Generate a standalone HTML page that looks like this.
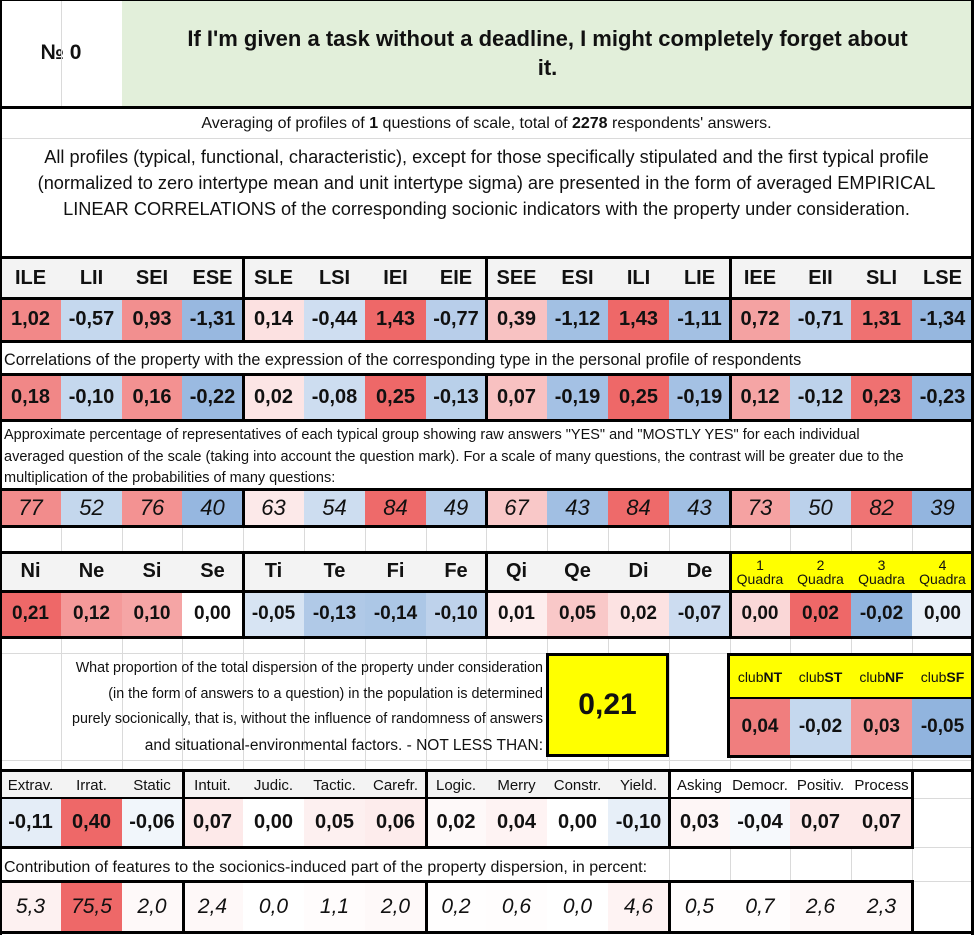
<!DOCTYPE html>
<html><head><meta charset="utf-8">
<style>
body{margin:0;background:#fff;}
#sheet{position:relative;width:975px;height:935px;overflow:hidden;background:#fff;font-family:"Liberation Sans",sans-serif;color:#111;}
.c{position:absolute;box-sizing:border-box;display:flex;align-items:center;justify-content:center;white-space:nowrap;}
.ln{position:absolute;background:#000;}
.gl{position:absolute;background:#dadada;}
.txt{position:absolute;white-space:nowrap;}
</style></head><body>
<div id="sheet">
  <div class="c" style="left:0;top:0;width:122px;height:106px;font-weight:bold;font-size:21px;">№ 0</div>
  <div class="gl" style="left:61px;top:0;width:1px;height:106px"></div>
  <div class="c" style="left:122px;top:0;width:851px;height:106px;background:#e2efda;font-weight:bold;font-size:22px;text-align:center;white-space:normal;line-height:29px;padding:0 10px;">If I'm given a task without a deadline, I might completely forget about<br>it.</div>
  <div class="c" style="left:0;top:109px;width:973px;height:29px;font-size:16px;">Averaging of profiles of&nbsp;<b>1</b>&nbsp;questions of scale, total of&nbsp;<b>2278</b>&nbsp;respondents' answers.</div>
  <div class="gl" style="left:0;top:138px;width:973px;height:1px"></div>
  <div class="c" style="left:0;top:144px;width:973px;height:78px;font-size:18.2px;line-height:26px;white-space:nowrap;text-align:center;">All profiles (typical, functional, characteristic), except for those specifically stipulated and the first typical profile<br>(normalized to zero intertype mean and unit intertype sigma) are presented in the form of averaged EMPIRICAL<br>LINEAR CORRELATIONS of the corresponding socionic indicators with the property under consideration.</div>
  <div class="txt" style="left:4px;top:351px;font-size:16.2px;">Correlations of the property with the expression of the corresponding type in the personal profile of respondents</div>
  <div class="txt" style="left:4px;top:425px;font-size:14.5px;line-height:21.5px;">Approximate percentage of representatives of each typical group showing raw answers "YES" and "MOSTLY YES" for each individual<br>averaged question of the scale (taking into account the question mark). For a scale of many questions, the contrast will be greater due to the<br>multiplication of the probabilities of many questions:</div>
  <div class="txt" style="left:20px;top:656px;width:523px;font-size:14.3px;line-height:25.5px;text-align:right;">What proportion of the total dispersion of the property under consideration<br>(in the form of answers to a question) in the population is determined<br>purely socionically, that is, without the influence of randomness of answers<br><span style="font-size:15.5px">and situational-environmental factors. - NOT LESS THAN:</span></div>
  <div class="c" style="left:546px;top:653px;width:123px;height:104px;background:#ffff00;border:3px solid #000;font-weight:bold;font-size:30px;">0,21</div>
  <div class="txt" style="left:4px;top:859px;font-size:16px;">Contribution of features to the socionics-induced part of the property dispersion, in percent:</div>
</div>
<script>
const typeNames=["ILE","LII","SEI","ESE","SLE","LSI","IEI","EIE","SEE","ESI","ILI","LIE","IEE","EII","SLI","LSE"];
const typeProfile=[1.02,-0.57,0.93,-1.31,0.14,-0.44,1.43,-0.77,0.39,-1.12,1.43,-1.11,0.72,-0.71,1.31,-1.34];
const typeCorrelation=[0.18,-0.10,0.16,-0.22,0.02,-0.08,0.25,-0.13,0.07,-0.19,0.25,-0.19,0.12,-0.12,0.23,-0.23];
const yesPercent=[77,52,76,40,63,54,84,49,67,43,84,43,73,50,82,39];
const funcNames=["Ni","Ne","Si","Se","Ti","Te","Fi","Fe","Qi","Qe","Di","De"];
const funcValues=[0.21,0.12,0.10,0.00,-0.05,-0.13,-0.14,-0.10,0.01,0.05,0.02,-0.07];
const quadraNames=["1","2","3","4"];
const quadraValues=[0.003,0.02,-0.02,-0.002];
const clubNames=["NT","ST","NF","SF"];
const clubValues=[0.04,-0.02,0.03,-0.05];
const traitNames=["Extrav.","Irrat.","Static","Intuit.","Judic.","Tactic.","Carefr.","Logic.","Merry","Constr.","Yield.","Asking","Democr.","Positiv.","Process"];
const traitValues=[-0.11,0.40,-0.06,0.07,0.00,0.05,0.06,0.02,0.04,0.00,-0.10,0.03,-0.04,0.07,0.07];
const traitContribution=[5.3,75.5,2.0,2.4,0.0,1.1,2.0,0.2,0.6,0.0,4.6,0.5,0.7,2.6,2.3];

const S=document.getElementById('sheet');
const CW=60.8;
function X(i){return Math.round(i*CW);}
function color(v,max,g){
  const t=Math.pow(Math.min(1,Math.abs(v)/max),g||0.7);
  const tgt=v>=0?[238,104,104]:[145,180,222];
  const c=tgt.map(k=>Math.round(255+(k-255)*t));
  return 'rgb('+c.join(',')+')';
}
function fmt(v,d){return v.toFixed(d).replace('.',',').replace(/^-0,0+$/,m=>m.slice(1));}
function cell(x,y,w,h,html,style){
  const d=document.createElement('div');
  d.className='c';
  d.style.cssText='left:'+x+'px;top:'+y+'px;width:'+w+'px;height:'+h+'px;'+(style||'');
  d.innerHTML=html;
  S.appendChild(d);
  return d;
}
function line(x,y,w,h){const d=document.createElement('div');d.className='ln';d.style.cssText='left:'+x+'px;top:'+y+'px;width:'+w+'px;height:'+h+'px';S.appendChild(d);}
function grid(x,y,w,h){const d=document.createElement('div');d.className='gl';d.style.cssText='left:'+x+'px;top:'+y+'px;width:'+w+'px;height:'+h+'px';S.insertBefore(d,S.firstChild);}

for(let i=1;i<16;i++){grid(X(i),526,1,26);grid(X(i),637,1,133);}
grid(0,551,973,1);grid(0,653,973,1);grid(0,760,973,1);
grid(X(15),770,1,163);
for(let i=11;i<16;i++){grid(X(i),847,1,34);}
grid(912,798,61,1);grid(912,847,61,1);grid(669,881,304,1);

typeNames.forEach((n,i)=>{
  const d=cell(X(i),259,X(i+1)-X(i),39,n,'background:#f3f3f3;font-weight:bold;font-size:20px;');
  
  
});
typeProfile.forEach((v,i)=>{
  const d=cell(X(i),298,X(i+1)-X(i),43,fmt(v,2),'background:'+color(v,1.43)+';font-weight:bold;font-size:20px;');
  
  
});
typeCorrelation.forEach((v,i)=>{
  const d=cell(X(i),374,X(i+1)-X(i),46,fmt(v,2),'background:'+color(v,0.25)+';font-weight:bold;font-size:20px;');
  
  
});
yesPercent.forEach((v,i)=>{
  const d=cell(X(i),490,X(i+1)-X(i),36,String(v),'background:'+color(v-61.5,23)+';font-style:italic;font-size:22px;');
  
  
});
funcNames.forEach((n,i)=>{
  const d=cell(X(i),552,X(i+1)-X(i),39,n,'background:#f3f3f3;font-weight:bold;font-size:20px;');
  
  
});
funcValues.forEach((v,i)=>{
  const d=cell(X(i),591,X(i+1)-X(i),46,fmt(v,2),'background:'+color(v,0.21)+';font-weight:bold;font-size:19px;');
  
  
});
quadraNames.forEach((n,i)=>{
  const d=cell(X(12+i),552,X(13+i)-X(12+i),39,'<div style="text-align:center;line-height:14px">'+n+'<br>Quadra</div>','background:#ffff00;font-size:14px;');
  
  
});
quadraValues.forEach((v,i)=>{
  const d=cell(X(12+i),591,X(13+i)-X(12+i),46,fmt(v,2),'background:'+color(v,0.02)+';font-weight:bold;font-size:19px;');
  
  
});
clubNames.forEach((n,i)=>{
  const d=cell(X(12+i),656,X(13+i)-X(12+i),42,'club<b>'+n+'</b>','background:#ffff00;font-size:14px;');
  
  
});
clubValues.forEach((v,i)=>{
  const d=cell(X(12+i),698,X(13+i)-X(12+i),58,fmt(v,2),'background:'+color(v,0.05)+';font-weight:bold;font-size:19px;');
  
  
});
traitNames.forEach((n,i)=>{
  const d=cell(X(i),772,X(i+1)-X(i),26,n,(i<11?'background:#f3f3f3;':'')+'font-size:15px;');
  
  
});
traitValues.forEach((v,i)=>{
  const d=cell(X(i),798,X(i+1)-X(i),49,fmt(v,2),'background:'+color(v,0.40,1.1)+';font-weight:bold;font-size:20px;');
  
  
});
traitContribution.forEach((v,i)=>{
  const d=cell(X(i),881,X(i+1)-X(i),52,fmt(v,1),'background:'+color(v,75.5,0.9)+';font-style:italic;font-size:21px;');
  
  
});

line(0,0,973,1);
line(0,0,2,935);line(971,0,3,935);
line(0,106,973,3);
line(0,256,973,3);line(0,297,973,3);line(0,340,973,3);line(0,373,973,3);line(0,419,973,3);line(0,488,973,3);line(0,525,973,3);
[243,486,730].forEach(x=>{line(x-1,256,3,87);line(x-1,373,3,49);line(x-1,488,3,40);});
line(0,551,973,3);line(0,590,973,3);line(0,636,973,3);
[243,486,730].forEach(x=>{line(x-1,551,3,88);});
line(728,653,245,3);line(728,697,245,2);line(728,755,245,3);line(727,653,3,105);
line(0,769,973,3);line(0,797,912,2);line(0,846,912,3);line(0,880,912,3);line(0,931,973,3);
[183,426,669,912].forEach(x=>{line(x-1,769,3,80);line(x-1,880,3,53);});
</script>
</body></html>
